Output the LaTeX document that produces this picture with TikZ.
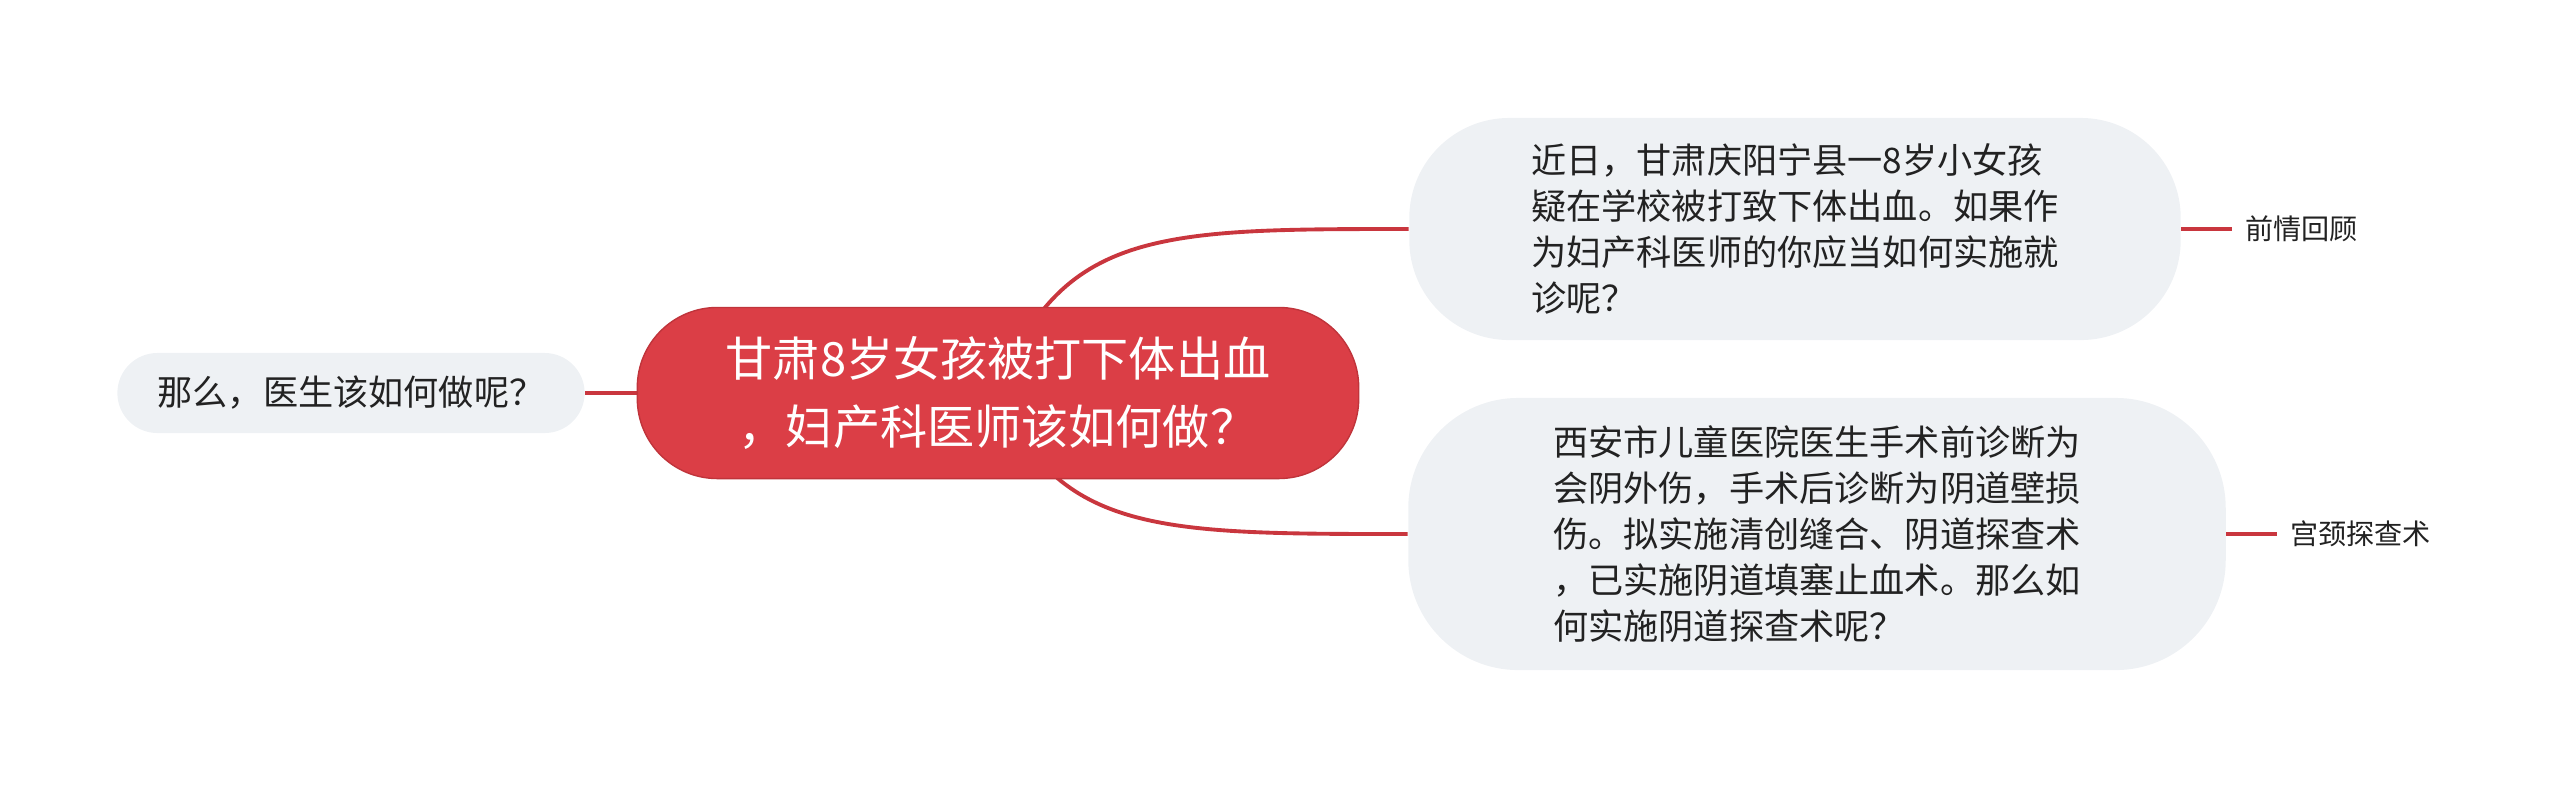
\documentclass[tikz,border=0pt]{standalone}
\usepackage{fontspec}
\setmainfont{Noto Sans CJK SC}
\usetikzlibrary{positioning,backgrounds}
\definecolor{hongse}{HTML}{DB3E46}
\definecolor{hongbian}{HTML}{C0343B}
\definecolor{xianse}{HTML}{C9363E}
\definecolor{huidi}{HTML}{EEF1F4}
\definecolor{wenzi}{HTML}{222222}
\begin{document}
\begin{tikzpicture}[x=0.01cm,y=-0.01cm]
    \tikzstyle{zhuti}= [fill=hongse, draw=hongbian, line width=0.4pt, text=white,
      minimum width=7.21cm, minimum height=1.71cm, rounded corners=0.8cm,
      align=center, inner sep=0pt, font=\fontsize{13.4pt}{19.1pt}\selectfont]
    \tikzstyle{fenzhi}= [fill=huidi, text=wenzi, inner sep=0pt, align=left,
      font=\fontsize{10pt}{13.1pt}\selectfont]
    \tikzstyle{biaoqian}= [text=wenzi, inner xsep=0.12cm, inner ysep=0pt,
      font=\fontsize{8pt}{10pt}\selectfont]
    \tikzstyle{lianxian}= [xianse, line width=1.1pt]
  \useasboundingbox (0,0) rectangle (2560,787);

  % center and branches
  \node[zhuti] (zhong) at (998,393) {甘肃8岁女孩被打下体出血\\，妇产科医师该如何做？};
  \node[fenzhi, minimum width=4.67cm, minimum height=0.8cm, rounded corners=0.4cm]
    (zuo) at (351,393) {那么，医生该如何做呢？};
  \node[fenzhi, minimum width=7.71cm, minimum height=2.22cm, rounded corners=1cm]
    (shang) at (1795,229) {近日，甘肃庆阳宁县一8岁小女孩\\疑在学校被打致下体出血。如果作\\为妇产科医师的你应当如何实施就\\诊呢？};
  \node[fenzhi, minimum width=8.17cm, minimum height=2.72cm, rounded corners=1.1cm]
    (xia) at (1817,534) {西安市儿童医院医生手术前诊断为\\会阴外伤，手术后诊断为阴道壁损\\伤。拟实施清创缝合、阴道探查术\\，已实施阴道填塞止血术。那么如\\何实施阴道探查术呢？};

  \foreach \jd/\wz in {shang/前情回顾, xia/宫颈探查术} {
    \node[biaoqian, right=0.51cm of \jd] (\jd-bq) {\wz};
    \draw[lianxian] (\jd.east) -- (\jd-bq.west);
  }

  \begin{scope}[on background layer]
    \draw[lianxian] (zuo.east) -- (zhong.west);
    \draw[lianxian] (zhong.center) .. controls (1060,229) and (1160,229) .. (shang.west);
    \draw[lianxian] (zhong.center) .. controls (1060,534) and (1160,534) .. (xia.west);
  \end{scope}
\end{tikzpicture}
\end{document}
